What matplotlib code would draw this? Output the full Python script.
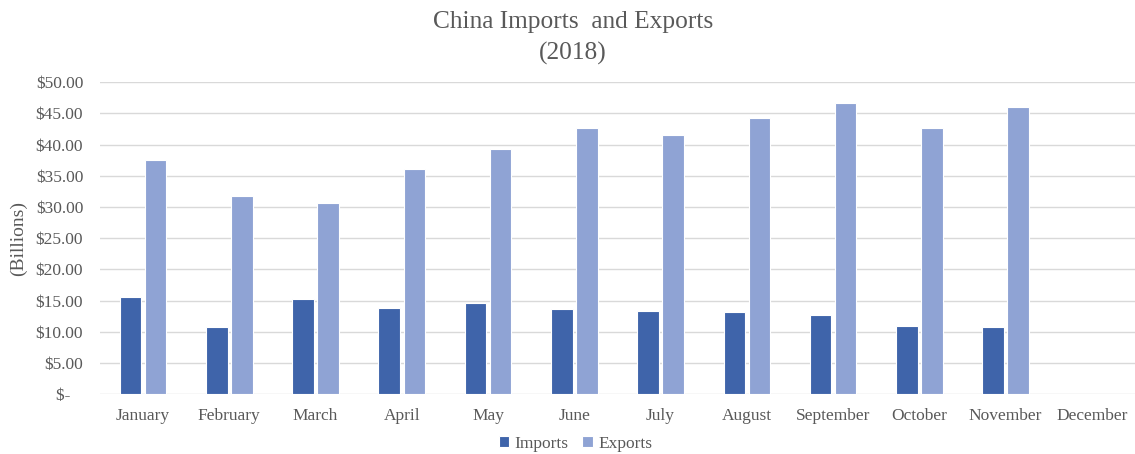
import matplotlib.pyplot as plt
import numpy as np

months = ["January", "February", "March", "April", "May", "June",
          "July", "August", "September", "October", "November", "December"]
imports = [15.6, 10.7, 15.2, 13.8, 14.6, 13.6, 13.3, 13.2, 12.7, 10.9, 10.7, np.nan]
exports = [37.6, 31.7, 30.6, 36.1, 39.3, 42.6, 41.5, 44.3, 46.6, 42.6, 46.1, np.nan]

plt.rcParams['font.family'] = ['Liberation Serif', 'DejaVu Serif']
grey = '#595959'

fig = plt.figure(figsize=(11.35, 4.54), dpi=100)
ax = fig.add_axes([0.088, 0.132, 0.912, 0.687])

x = np.arange(len(months))
w = 0.25
ax.bar(x - 0.145, imports, w, color='#3F64AA', edgecolor='white', linewidth=0.8, label='Imports', zorder=3)
ax.bar(x + 0.145, exports, w, color='#8FA3D4', edgecolor='white', linewidth=0.8, label='Exports', zorder=3)

ax.set_xlim(-0.5, len(months) - 0.5)
ax.set_ylim(0, 50)
ax.set_yticks(np.arange(0, 51, 5))
ax.set_yticklabels(["$-   "] + ["${:.2f}".format(v) for v in np.arange(5, 51, 5)])
ax.set_xticks(x)
ax.set_xticklabels(months)
ax.tick_params(axis='both', length=0, labelsize=12.5, colors=grey)
ax.tick_params(axis='x', pad=10)
ax.tick_params(axis='y', pad=12)
ax.grid(axis='y', color='#D9D9D9', linewidth=1, zorder=0)
for s in ax.spines.values():
    s.set_visible(False)

ax.set_ylabel("(Billions)", fontsize=14, color=grey, labelpad=6)
fig.text(0.505, 0.952, "China Imports  and Exports", ha='center', va='center', fontsize=18.3, color=grey)
fig.text(0.505, 0.883, "(2018)", ha='center', va='center', fontsize=18.3, color=grey)

fig.legend(loc='center', bbox_to_anchor=(0.507, 0.022), ncol=2, frameon=False,
           fontsize=12.5, handlelength=0.6, handleheight=0.6, handletextpad=0.3,
           columnspacing=0.8, labelcolor=grey)

fig.savefig('out.png', dpi=100)
